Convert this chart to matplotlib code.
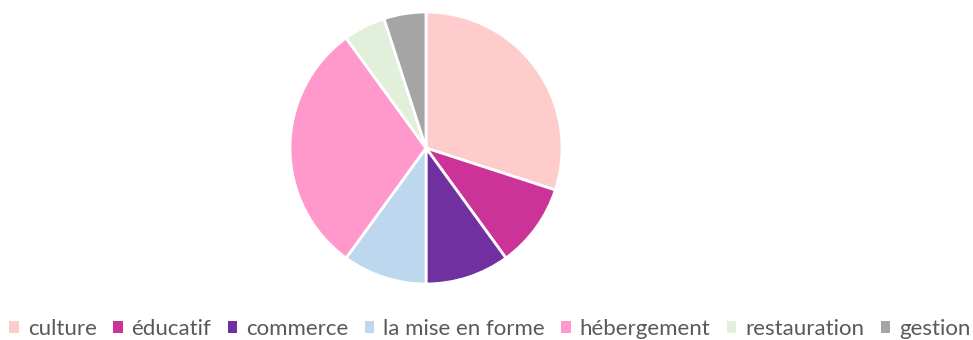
import matplotlib.pyplot as plt
from matplotlib.patches import Patch

categories = ["culture", "éducatif", "commerce", "la mise en forme",
              "hébergement", "restauration", "gestion"]
values = [30, 10, 10, 10, 30, 5, 5]
colors = ["#FFCCCC", "#CC3399", "#7030A0", "#BDD7EE",
          "#FF99CC", "#E2EFDA", "#A5A5A5"]

plt.rcParams['font.family'] = ['Lato', 'DejaVu Sans']

fig = plt.figure(figsize=(9.73, 3.40), dpi=100)
ax = fig.add_axes([290 / 973, 56 / 340, 272 / 973, 272 / 340])
ax.pie(values, colors=colors, startangle=90, counterclock=False,
       wedgeprops=dict(edgecolor="white", linewidth=2))
ax.set_xlim(-1, 1)
ax.set_ylim(-1, 1)
ax.set_aspect("equal")
ax.axis("off")

handles = [Patch(facecolor=c, edgecolor="none") for c in colors]
leg = fig.legend(handles, categories, loc="center", bbox_to_anchor=(490 / 973, 11 / 340),
                 ncol=len(categories), frameon=False, fontsize=16,
                 handlelength=0.42, handleheight=0.42, handletextpad=0.4,
                 columnspacing=0.75, borderaxespad=0)
for t in leg.get_texts():
    t.set_color("#595959")

fig.savefig("out.png", dpi=100)
